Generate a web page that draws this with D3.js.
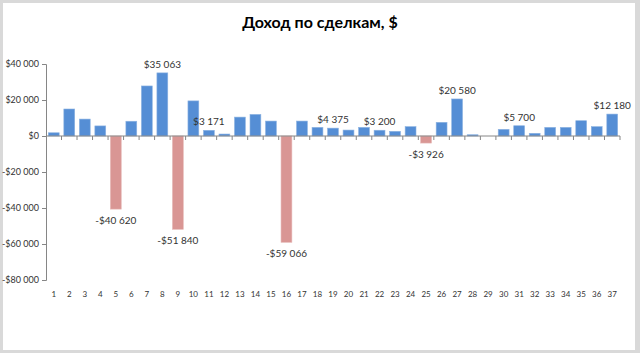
<!DOCTYPE html>
<html>
<head>
<meta charset="utf-8">
<script src="https://cdn.jsdelivr.net/npm/d3@7"></script>
<style>
html,body{margin:0;padding:0;background:#fff;}
svg{display:block;}
</style>
</head>
<body>
<svg id="chart" width="640" height="353"></svg>
<script>
const title = "Доход по сделкам, $";
const categories = d3.range(1, 38).map(String);
const values = [1800, 15000, 9400, 5600, -40620, 8200, 27800, 35063, -51840, 19500,
  3171, 1100, 10500, 12000, 8300, -59066, 8300, 4800, 4375, 3300,
  4800, 3200, 2600, 5200, -3926, 7600, 20580, 700, 0, 3700,
  5700, 1500, 4800, 4800, 8500, 5200, 12180];
const labelled = ["5","8","9","11","16","19","22","25","27","31","37"];
const yTicks = [40000, 20000, 0, -20000, -40000, -60000, -80000];

const data = categories.map((c, i) => ({cat: c, v: values[i]}));

const svg = d3.select("#chart");
const W = 640, H = 353;
const mLeft = 46, mRight = 620, mTop = 64, mBottom = 280;

svg.append("rect").attr("x",0).attr("y",0).attr("width",W).attr("height",H).attr("fill","#d9d9d9");
svg.append("rect").attr("x",3).attr("y",3).attr("width",632).attr("height",347).attr("fill","#ffffff");

const loc = d3.formatLocale({decimal: ",", thousands: "\u00a0", grouping: [3], currency: ["$", ""], minus: "-"});
const fmt = loc.format("$,.0f");

const x = d3.scaleBand().domain(categories).range([mLeft, mRight]).paddingInner(0.3).paddingOuter(0.15);
const y = d3.scaleLinear().domain([-80000, 40000]).range([mBottom, mTop]);

svg.append("text").attr("x", 320).attr("y", 28).attr("text-anchor","middle")
  .attr("font-family","Lato, 'Open Sans', sans-serif").attr("font-weight","bold")
  .attr("font-size", 16).attr("fill","#000").text(title);

// bars
svg.append("g").selectAll("rect").data(data.filter(d => d.v !== 0)).join("rect")
  .attr("x", d => x(d.cat))
  .attr("width", x.bandwidth())
  .attr("y", d => y(Math.max(0, d.v)))
  .attr("height", d => Math.abs(y(d.v) - y(0)))
  .attr("fill", d => d.v >= 0 ? "#558ed5" : "#d99694")
  .attr("stroke", d => d.v >= 0 ? "#8db3e2" : "#e6b9b8")
  .attr("stroke-width", 0.6);

// y axis
const yAxis = d3.axisLeft(y).tickValues(yTicks).tickSize(4).tickPadding(3).tickFormat(fmt);
const gy = svg.append("g").attr("transform", `translate(${mLeft},0)`).call(yAxis);
gy.select(".domain").attr("stroke","#868686");
gy.selectAll(".tick line").attr("stroke","#868686");
gy.selectAll(".tick text").attr("font-family","Lato, sans-serif").attr("font-size", 9).attr("fill","#333");

// x axis line at zero with boundary ticks
const step = x.step();
svg.append("line").attr("x1", mLeft).attr("x2", mRight).attr("y1", y(0)).attr("y2", y(0)).attr("stroke","#868686");
const bounds = categories.map(c => x(c) + x.bandwidth() + x.paddingInner()*step/2);
svg.append("g").selectAll("line").data(bounds).join("line")
  .attr("x1", d => d).attr("x2", d => d).attr("y1", y(0)).attr("y2", y(0) + 4)
  .attr("stroke","#868686");

// category labels at bottom
svg.append("g").selectAll("text").data(categories).join("text")
  .attr("x", d => x(d) + x.bandwidth()/2).attr("y", 297)
  .attr("text-anchor","middle").attr("font-family","Lato, sans-serif").attr("font-size", 8)
  .attr("fill","#333").text(d => d);

// data labels
svg.append("g").selectAll("text").data(data.filter(d => labelled.includes(d.cat))).join("text")
  .attr("x", d => x(d.cat) + x.bandwidth()/2)
  .attr("y", d => d.v >= 0 ? y(d.v) - 5 : y(d.v) + 15)
  .attr("text-anchor","middle").attr("font-family","Lato, sans-serif").attr("font-size", 10)
  .attr("fill","#333").text(d => fmt(d.v));
</script>
</body>
</html>
